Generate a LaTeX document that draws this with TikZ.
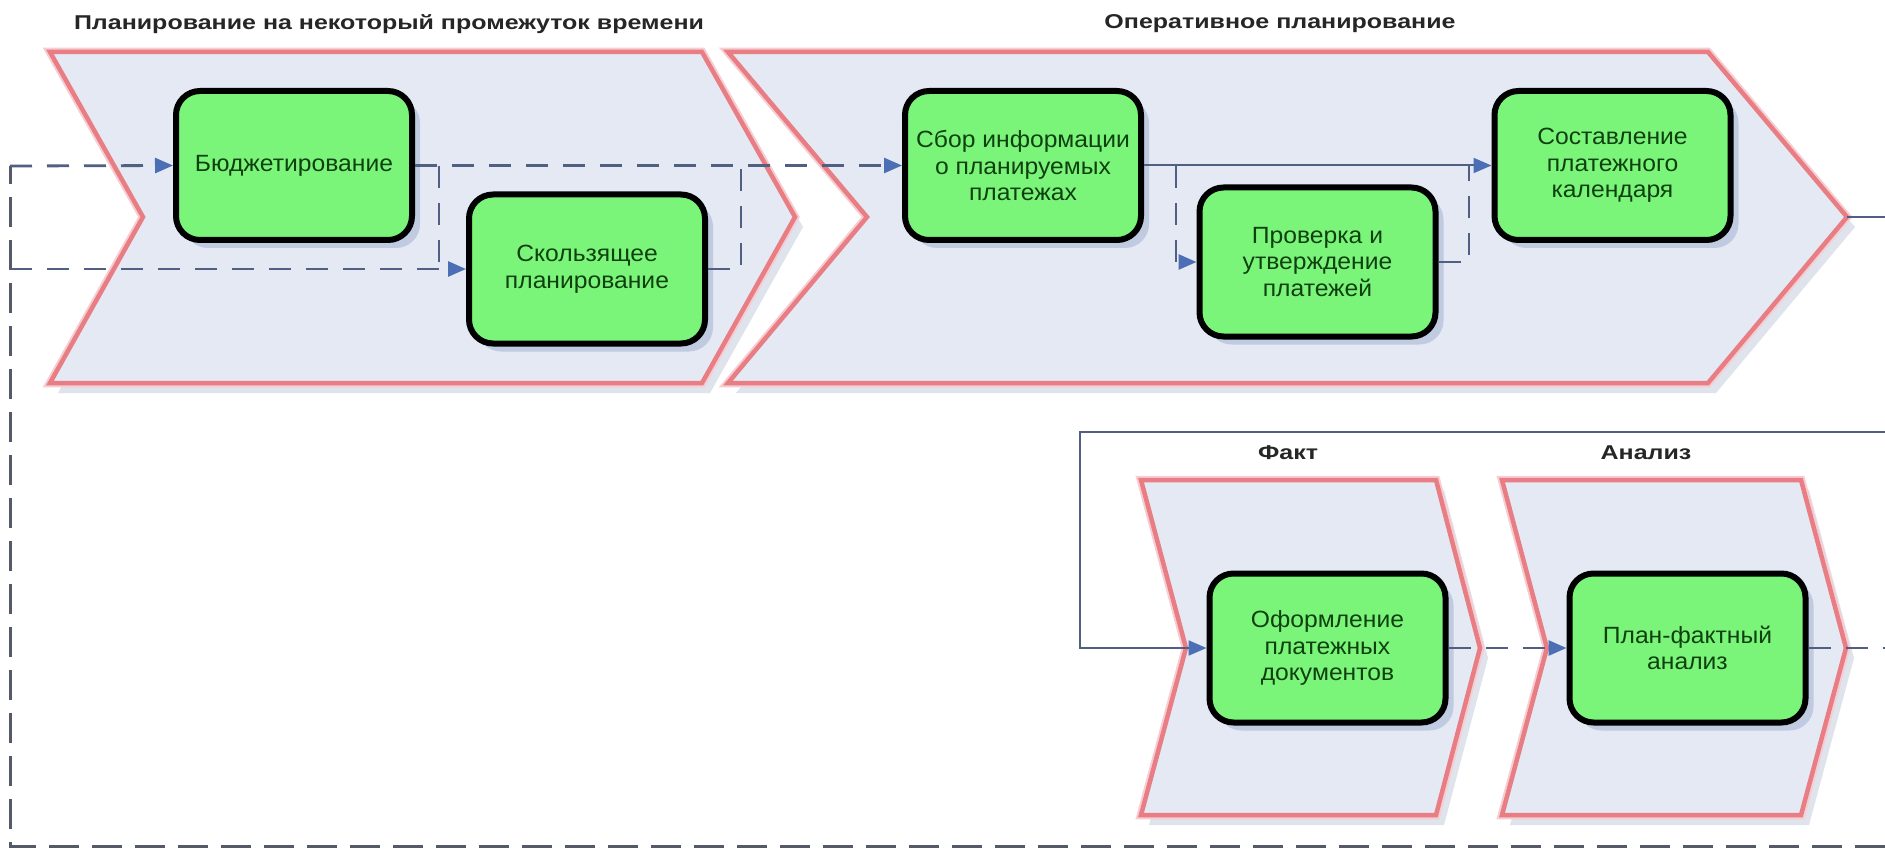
\documentclass[tikz,border=0pt]{standalone}
\usepackage{fontspec}
\setmainfont{Liberation Sans}
\newfontfamily\boxfont[FakeStretch=1.05]{Liberation Sans}
\newfontfamily\ttlfont[FakeStretch=1.25]{Liberation Sans Bold}
\usetikzlibrary{arrows.meta,shadows}
\definecolor{chevfill}{RGB}{228,233,244}
\definecolor{chevline}{RGB}{232,125,132}
\definecolor{chevhalo}{RGB}{246,205,210}
\definecolor{chevshadow}{RGB}{222,227,236}
\definecolor{boxgreen}{RGB}{122,245,122}
\definecolor{boxshadow}{RGB}{192,202,224}
\definecolor{txtgreen}{RGB}{15,65,15}
\definecolor{conn}{RGB}{80,95,130}
\definecolor{bigconn}{RGB}{85,90,105}
\definecolor{arrowblue}{RGB}{75,110,180}
\begin{document}
\begin{tikzpicture}[x=1pt,y=-1pt,
 chev/.style={fill=chevfill, draw=chevline, line width=4.5pt, line join=miter},
 chevhl/.style={draw=chevhalo, line width=8.5pt, line join=miter},
 chevshad/.style={fill=chevshadow},
 task/.style={rectangle, rounded corners=24pt, draw=black, line width=6pt, fill=boxgreen,
   minimum width=236pt, minimum height=149pt, inner sep=0pt, align=center, text=txtgreen,
   font=\boxfont\fontsize{23.5}{26.5}\selectfont,
   drop shadow={shadow xshift=8pt, shadow yshift=-8pt, fill=boxshadow, opacity=1, draw=none}},
 ttl/.style={font=\ttlfont\fontsize{20}{24}\selectfont, text=black!85, inner sep=0pt},
 dconn/.style={draw=conn, line width=2.8pt, dash pattern=on 22pt off 15pt},
 sconn/.style={draw=conn, line width=2pt},
 bconn/.style={draw=bigconn, line width=3pt, dash pattern=on 30pt off 13pt},
 arr/.style={-{Triangle[length=18pt,width=15pt,color=arrowblue]}}
]
\fill[white] (0,0) rectangle (1885,853);
\useasboundingbox (0,0) rectangle (1885,853);

% chevron shadows
\fill[chevshad,shift={(8,10)}] (50,52) -- (702,52) -- (795,217) -- (702,383) -- (50,383) -- (143,217) -- cycle;
\fill[chevshad,shift={(8,10)}] (728,52) -- (1708,52) -- (1847,217) -- (1708,383) -- (728,383) -- (867,217) -- cycle;
\fill[chevshad,shift={(8,10)}] (1141,480) -- (1436,480) -- (1480,648) -- (1436,815) -- (1141,815) -- (1186,648) -- cycle;
\fill[chevshad,shift={(8,10)}] (1502,480) -- (1801,480) -- (1846,648) -- (1801,815) -- (1502,815) -- (1547,648) -- cycle;
% chevron halos
\draw[chevhl] (50,52) -- (702,52) -- (795,217) -- (702,383) -- (50,383) -- (143,217) -- cycle;
\draw[chevhl] (728,52) -- (1708,52) -- (1847,217) -- (1708,383) -- (728,383) -- (867,217) -- cycle;
\draw[chevhl] (1141,480) -- (1436,480) -- (1480,648) -- (1436,815) -- (1141,815) -- (1186,648) -- cycle;
\draw[chevhl] (1502,480) -- (1801,480) -- (1846,648) -- (1801,815) -- (1502,815) -- (1547,648) -- cycle;
% chevrons
\draw[chev] (50,52) -- (702,52) -- (795,217) -- (702,383) -- (50,383) -- (143,217) -- cycle;
\draw[chev] (728,52) -- (1708,52) -- (1847,217) -- (1708,383) -- (728,383) -- (867,217) -- cycle;
\draw[chev] (1141,480) -- (1436,480) -- (1480,648) -- (1436,815) -- (1141,815) -- (1186,648) -- cycle;
\draw[chev] (1502,480) -- (1801,480) -- (1846,648) -- (1801,815) -- (1502,815) -- (1547,648) -- cycle;

% titles
\node[ttl] (t1) at (389,24) {Планирование на некоторый промежуток времени};
\node[ttl] (t2) at (1280,24) {Оперативное планирование};
\node[ttl] (t3) at (1288,453) {Факт};
\node[ttl] (t4) at (1646,453) {Анализ};

% tasks
\node[task] (bud) at (294,165.5) {Бюджетирование};
\node[task] (sko) at (587,269) {Скользящее\\планирование};
\node[task] (sbor) at (1023,165.5) {Сбор информации\\о планируемых\\платежах};
\node[task] (pro) at (1317.5,262) {Проверка и\\утверждение\\платежей};
\node[task] (sost) at (1612.5,165.5) {Составление\\платежного\\календаря};
\node[task] (ofo) at (1327.5,648) {Оформление\\платежных\\документов};
\node[task] (plan) at (1687.5,648) {План-фактный\\анализ};

% helper coordinates
\coordinate (lt) at (10,166);
\coordinate (lb) at (10,846);
\coordinate (edgeC) at (1885,846);
\coordinate (j1) at (439,166);
\coordinate (j2) at (741,166);
\coordinate (j3) at (1176,166);
\coordinate (j4) at (1469,166);
\coordinate (c2tip) at (1847,217);
\coordinate (edgeA) at (1885,217);
\coordinate (edgeB) at (1885,432);
\coordinate (fb) at (1080,432);
\coordinate (edgeD) at (1885,648);

% connectors
\draw[bconn] (edgeC) -- (lb) -- (lt);
\draw[dconn,arr] (lt) -- (bud.west);
\draw[dconn,arr] (lt |- sko.west) -- (sko.west);
\draw[dconn,arr] (bud.east) -- (sbor.west);
\draw[dconn] (j1) -- (j1 |- sko.west);
\draw[dconn] (sko.east) -| (j2);
\draw[sconn,arr] (sbor.east) -- (sost.west);
\draw[dconn,arr] (j3) |- (pro.west);
\draw[dconn] (pro.east) -| (j4);
\draw[sconn] (c2tip) -- (edgeA);
\draw[sconn,arr] (edgeB) -- (fb) |- (ofo.west);
\draw[dconn,arr] (ofo.east) -- (plan.west);
\draw[dconn] (plan.east) -- (edgeD);
\end{tikzpicture}
\end{document}
